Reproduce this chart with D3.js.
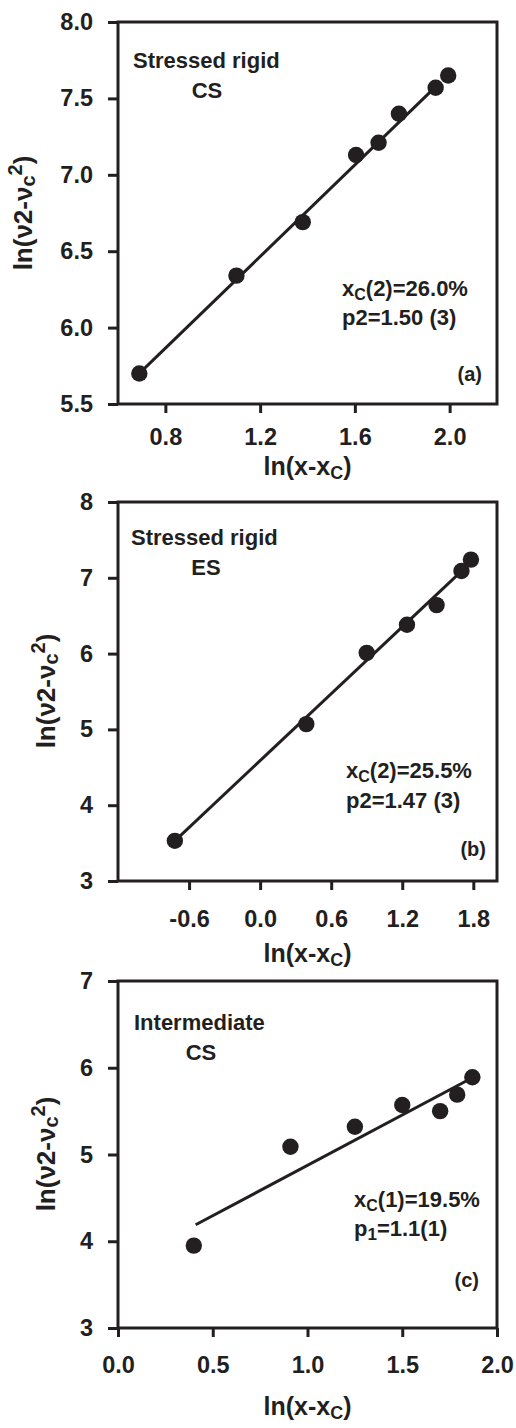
<!DOCTYPE html>
<html>
<head>
<meta charset="utf-8">
<script src="https://cdn.jsdelivr.net/npm/d3@7"></script>
<style>
  body { margin: 0; background: #fff; }
  svg { display: block; }
  text { font-family: "Liberation Sans", Arial, Helvetica, sans-serif; font-weight: bold; fill: #231f20; }
</style>
</head>
<body>
<svg id="chart" width="516" height="1428"></svg>
<script>
// Panel (a): stressed rigid, CS
const xA = [0.69, 1.10, 1.38, 1.605, 1.70, 1.786, 1.941, 1.994];
const yA = [5.70, 6.34, 6.69, 7.13, 7.21, 7.40, 7.57, 7.65];
const fitXA = [0.69, 1.96];
const fitYA = [5.70, 7.605];
const xTicksA = [0.8, 1.2, 1.6, 2.0];
const yTicksA = [5.5, 6.0, 6.5, 7.0, 7.5, 8.0];

// Panel (b): stressed rigid, ES
const xB = [-0.72, 0.39, 0.90, 1.24, 1.49, 1.70, 1.78];
const yB = [3.53, 5.07, 6.01, 6.38, 6.64, 7.09, 7.24];
const fitXB = [-0.72, 1.75];
const fitYB = [3.53, 7.16];
const xTicksB = [-0.6, 0.0, 0.6, 1.2, 1.8];
const yTicksB = [3, 4, 5, 6, 7, 8];

// Panel (c): intermediate, CS
const xC = [0.40, 0.91, 1.25, 1.50, 1.70, 1.79, 1.87];
const yC = [3.95, 5.09, 5.32, 5.57, 5.50, 5.69, 5.89];
const fitXC = [0.41, 1.84];
const fitYC = [4.19, 5.85];
const xTicksC = [0.0, 0.5, 1.0, 1.5, 2.0];
const yTicksC = [3, 4, 5, 6, 7];

const ink = "#231f20";
const svg = d3.select("#chart");

// plain hyphen for negative tick labels
const fmt = spec => { const f = d3.format(spec); return v => f(v).replace("\u2212", "-"); };

const panels = [
  {
    box: [118, 22, 497, 404], xDom: [0.6, 2.2], yDom: [5.5, 8.0],
    xs: xA, ys: yA, fx: fitXA, fy: fitYA, xt: xTicksA, yt: yTicksA,
    xFmt: fmt(".1f"), yFmt: fmt(".1f"), xPad: 15,
    yTitle: [32, 213], xTitleY: 475,
    title: ["Stressed rigid", "CS"], titlePos: [133, 68, 207, 98],
    stat: { pre: "x", sub: "C", rest: "(2)=26.0%", line2: [["p2=1.50 (3)", null]] },
    statPos: [342, 296, 325],
    tag: "(a)", tagPos: [482, 381]
  },
  {
    box: [118, 502, 497, 881], xDom: [-1.2, 2.0], yDom: [3, 8],
    xs: xB, ys: yB, fx: fitXB, fy: fitYB, xt: xTicksB, yt: yTicksB,
    xFmt: fmt(".1f"), yFmt: fmt("d"), xPad: 20,
    yTitle: [55, 691], xTitleY: 962,
    title: ["Stressed rigid", "ES"], titlePos: [131, 545, 206, 575],
    stat: { pre: "x", sub: "C", rest: "(2)=25.5%", line2: [["p2=1.47 (3)", null]] },
    statPos: [346, 778, 808],
    tag: "(b)", tagPos: [486, 856]
  },
  {
    box: [118, 981, 497, 1328], xDom: [0, 2], yDom: [3, 7],
    xs: xC, ys: yC, fx: fitXC, fy: fitYC, xt: xTicksC, yt: yTicksC,
    xFmt: fmt(".1f"), yFmt: fmt("d"), xPad: 19,
    yTitle: [55, 1154], xTitleY: 1415,
    title: ["Intermediate", "CS"], titlePos: [134, 1030, 201, 1060],
    stat: { pre: "x", sub: "C", rest: "(1)=19.5%", line2: [["p", null], ["1", "sub"], ["=1.1(1)", "back"]] },
    statPos: [354, 1207, 1236],
    tag: "(c)", tagPos: [479, 1287]
  }
];

panels.forEach(p => {
  const [x0, y0, x1, y1] = p.box;
  const x = d3.scaleLinear().domain(p.xDom).range([x0, x1]);
  const y = d3.scaleLinear().domain(p.yDom).range([y1, y0]);
  const g = svg.append("g");

  // axes with outward ticks
  const gx = g.append("g").attr("transform", `translate(0,${y1})`)
    .call(d3.axisBottom(x).tickValues(p.xt).tickFormat(p.xFmt).tickSize(9).tickPadding(p.xPad));
  const gy = g.append("g").attr("transform", `translate(${x0},0)`)
    .call(d3.axisLeft(y).tickValues(p.yt).tickFormat(p.yFmt).tickSize(10).tickPadding(15));
  [gx, gy].forEach(a => {
    a.select(".domain").remove();
    a.selectAll(".tick line").attr("stroke", ink).attr("stroke-width", 3);
    a.selectAll(".tick text").attr("fill", ink).style("font-size", "23.5px")
      .style("font-family", "'Liberation Sans', Arial, sans-serif").style("font-weight", "bold");
  });

  // frame
  g.append("rect").attr("x", x0).attr("y", y0).attr("width", x1 - x0).attr("height", y1 - y0)
    .attr("fill", "none").attr("stroke", ink).attr("stroke-width", 3);

  // fitted line
  g.append("path")
    .datum(p.fx.map((v, i) => [v, p.fy[i]]))
    .attr("d", d3.line().x(d => x(d[0])).y(d => y(d[1])))
    .attr("fill", "none").attr("stroke", ink).attr("stroke-width", 3);

  // data points
  g.selectAll("circle.pt").data(p.xs.map((v, i) => [v, p.ys[i]])).join("circle")
    .attr("class", "pt").attr("cx", d => x(d[0])).attr("cy", d => y(d[1]))
    .attr("r", 8.2).attr("fill", ink);

  // axis titles
  const xt = g.append("text").attr("x", (x0 + x1) / 2).attr("y", p.xTitleY)
    .attr("text-anchor", "middle").style("font-size", "25px");
  xt.append("tspan").text("ln(x-x");
  xt.append("tspan").text("C").style("font-size", "18px").attr("dy", 4);
  xt.append("tspan").text(")").attr("dy", -4);

  const yt = g.append("text")
    .attr("transform", `translate(${p.yTitle[0]},${p.yTitle[1]}) rotate(-90)`)
    .attr("text-anchor", "middle").style("font-size", "26px");
  yt.append("tspan").text("ln(\u03bd2-\u03bd");
  yt.append("tspan").text("c").style("font-size", "20px").attr("dy", 3);
  yt.append("tspan").text("2").style("font-size", "20px").attr("dy", -13);
  yt.append("tspan").text(")").attr("dy", 10);

  // regime labels
  g.append("text").attr("x", p.titlePos[0]).attr("y", p.titlePos[1])
    .style("font-size", "22px").text(p.title[0]);
  g.append("text").attr("x", p.titlePos[2]).attr("y", p.titlePos[3])
    .attr("text-anchor", "middle").style("font-size", "22px").text(p.title[1]);

  // threshold and exponent
  const s1 = g.append("text").attr("x", p.statPos[0]).attr("y", p.statPos[1]).style("font-size", "22px");
  s1.append("tspan").text(p.stat.pre);
  s1.append("tspan").text(p.stat.sub).style("font-size", "16px").attr("dy", 4);
  s1.append("tspan").text(p.stat.rest).attr("dy", -4);

  const s2 = g.append("text").attr("x", p.statPos[0]).attr("y", p.statPos[2]).style("font-size", "22px");
  p.stat.line2.forEach(([t, kind]) => {
    const ts = s2.append("tspan").text(t);
    if (kind === "sub") ts.style("font-size", "17px").attr("dy", 4);
    if (kind === "back") ts.attr("dy", -4);
  });

  // panel tag
  g.append("text").attr("x", p.tagPos[0]).attr("y", p.tagPos[1])
    .attr("text-anchor", "end").style("font-size", "20px").text(p.tag);
});
</script>
</body>
</html>
